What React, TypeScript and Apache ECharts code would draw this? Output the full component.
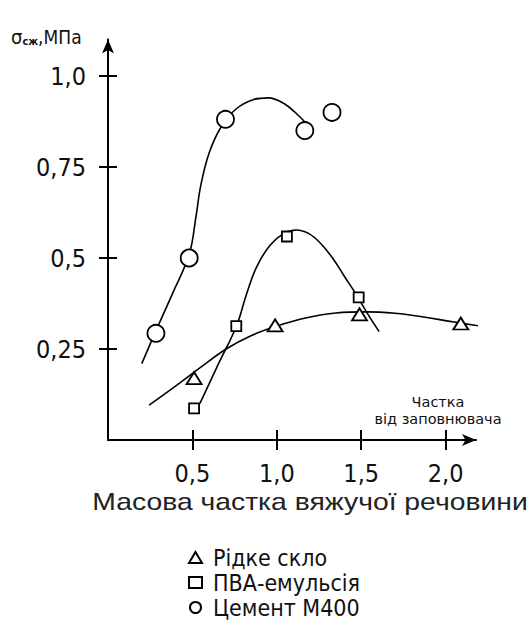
import React, { useEffect, useRef } from 'react';
import * as echarts from 'echarts';

const glassName = 'Рідке скло';
const pvaName = 'ПВА-емульсія';
const cementName = 'Цемент М400';

// measured points
const glassPoints = [[0.51, 0.17], [0.99, 0.315], [1.49, 0.345], [2.09, 0.32]];
const pvaPoints = [[0.51, 0.087], [0.76, 0.313], [1.06, 0.559], [1.485, 0.392]];
const cementPoints = [[0.284, 0.293], [0.481, 0.5], [0.696, 0.881], [1.166, 0.85], [1.327, 0.9]];

// fitted curves
const glassCurve = [[0.244, 0.096], [0.4, 0.148], [0.55, 0.2], [0.7, 0.25], [0.85, 0.287], [1.0, 0.313], [1.17, 0.335], [1.35, 0.349], [1.53, 0.352], [1.7, 0.348], [1.87, 0.338], [2.05, 0.324], [2.23, 0.311]];
const pvaCurve = [[0.544, 0.1], [0.65, 0.205], [0.761, 0.313], [0.82, 0.4], [0.88, 0.475], [0.96, 0.535], [1.04, 0.567], [1.116, 0.577], [1.19, 0.567], [1.26, 0.54], [1.33, 0.5], [1.4, 0.45], [1.47, 0.4], [1.54, 0.345], [1.606, 0.298]];
const cementCurve = [[0.2, 0.21], [0.284, 0.3], [0.38, 0.4], [0.481, 0.51], [0.52, 0.61], [0.55, 0.7], [0.6, 0.79], [0.67, 0.86], [0.76, 0.91], [0.86, 0.935], [0.95, 0.94], [1.04, 0.925], [1.12, 0.895], [1.195, 0.86]];

const xTickValues = [0.5, 1.0, 1.5, 2.0];
const xTickLabels = ['0,5', '1,0', '1,5', '2,0'];
const yTickValues = [0.25, 0.5, 0.75, 1.0];
const yTickLabels = ['0,25', '0,5', '0,75', '1,0'];

const condensed = "'DejaVu Sans Condensed', 'DejaVu Sans', sans-serif";

export default function App() {
  const ref = useRef<HTMLDivElement>(null);
  useEffect(() => {
    const chart = echarts.init(ref.current!, null, { renderer: 'svg' });
    const axisLineStyle = { color: '#000', width: 2 };
    const markerStyle = { color: '#fff', borderColor: '#000', borderWidth: 1.8, opacity: 1 };
    const lineStyle = { color: '#000', width: 1.6 };
    const xFmt = (v: number) => {
      const i = xTickValues.indexOf(v);
      return i >= 0 ? xTickLabels[i] : '';
    };
    const yFmt = (v: number) => {
      const i = yTickValues.indexOf(v);
      return i >= 0 ? yTickLabels[i] : '';
    };
    const curve = (name: string, data: number[][]) => ({
      name, type: 'line', data, smooth: 0.4, showSymbol: false, symbol: 'none',
      clip: false, lineStyle, silent: true, z: 1,
    });
    chart.setOption({
      animation: false,
      backgroundColor: '#fff',
      grid: { left: 108, top: 39.6, width: 368, height: 400.4 },
      xAxis: [
        {
          type: 'value', min: 0, max: 2.18, interval: 0.5,
          splitLine: { show: false },
          axisLine: { show: true, lineStyle: axisLineStyle, symbol: ['none', 'arrow'], symbolSize: [9, 14] },
          axisTick: { show: true, inside: false, length: 10, lineStyle: { color: '#000', width: 2 }, customValues: xTickValues },
          axisLabel: { show: true, customValues: xTickValues, formatter: xFmt, margin: 21, fontSize: 25, fontFamily: condensed, color: '#111' },
        },
        {
          type: 'value', min: 0, max: 2.18, interval: 0.5, position: 'bottom',
          splitLine: { show: false },
          axisLine: { show: false },
          axisTick: { show: true, inside: true, length: 10, lineStyle: { color: '#000', width: 2 }, customValues: xTickValues },
          axisLabel: { show: false },
        },
      ],
      yAxis: [
        {
          type: 'value', min: 0, max: 1.1, interval: 0.25, position: 'left',
          splitLine: { show: false },
          axisLine: { show: true, lineStyle: axisLineStyle, symbol: ['none', 'arrow'], symbolSize: [9, 14] },
          axisTick: { show: true, inside: false, length: 9, lineStyle: { color: '#000', width: 2 }, customValues: yTickValues },
          axisLabel: { show: true, customValues: yTickValues, formatter: yFmt, margin: 22, fontSize: 25, fontFamily: condensed, color: '#111' },
        },
        {
          type: 'value', min: 0, max: 1.1, interval: 0.25, position: 'left', offset: 0,
          splitLine: { show: false },
          axisLine: { show: false },
          axisTick: { show: true, inside: true, length: 9, lineStyle: { color: '#000', width: 2 }, customValues: yTickValues },
          axisLabel: { show: false },
        },
      ],
      legend: {
        orient: 'vertical', left: 188, top: 545, height: 80, padding: 0, itemWidth: 13, itemHeight: 11, itemGap: 0,
        data: [glassName, pvaName, cementName],
        textStyle: { fontSize: 23, lineHeight: 25, fontFamily: condensed, color: '#111', padding: [0, 0, 0, 6] },
      },
      graphic: [
        {
          type: 'text', left: 11, top: 27,
          style: {
            text: '{a|σ}{b|сж}{c|,МПа}',
            rich: {
              a: { fontSize: 20, fontFamily: condensed, fill: '#111' },
              b: { fontSize: 11, fontWeight: 'bold', fontFamily: condensed, fill: '#111', padding: [8, 0, 0, 0] },
              c: { fontSize: 19, fontFamily: condensed, fill: '#111' },
            },
          },
        },
        {
          type: 'text', x: 438, y: 394, scaleX: 1.15,
          style: { text: 'Частка\nвід заповнювача', align: 'center', verticalAlign: 'top', fontSize: 14, lineHeight: 17, fontFamily: condensed, fill: '#111' },
        },
        {
          type: 'text', x: 310, y: 502, scaleX: 1.18,
          style: { text: 'Масова частка вяжучої речовини', align: 'center', verticalAlign: 'middle', fontSize: 24, fontFamily: "'Liberation Sans', Arial, sans-serif", fill: '#222' },
        },
      ],
      series: [
        curve('glass-curve', glassCurve),
        curve('pva-curve', pvaCurve),
        curve('cement-curve', cementCurve),
        { name: glassName, type: 'scatter', data: glassPoints, symbol: 'triangle', symbolSize: [15, 12], itemStyle: markerStyle, z: 3 },
        { name: pvaName, type: 'scatter', data: pvaPoints, symbol: 'rect', symbolSize: 10, itemStyle: markerStyle, z: 3 },
        { name: cementName, type: 'scatter', data: cementPoints, symbol: 'circle', symbolSize: 17, itemStyle: markerStyle, z: 3 },
      ],
    });
    return () => chart.dispose();
  }, []);
  return <div ref={ref} style={{ position: 'absolute', left: 0, top: 0, width: 530, height: 626 }} />;
}
